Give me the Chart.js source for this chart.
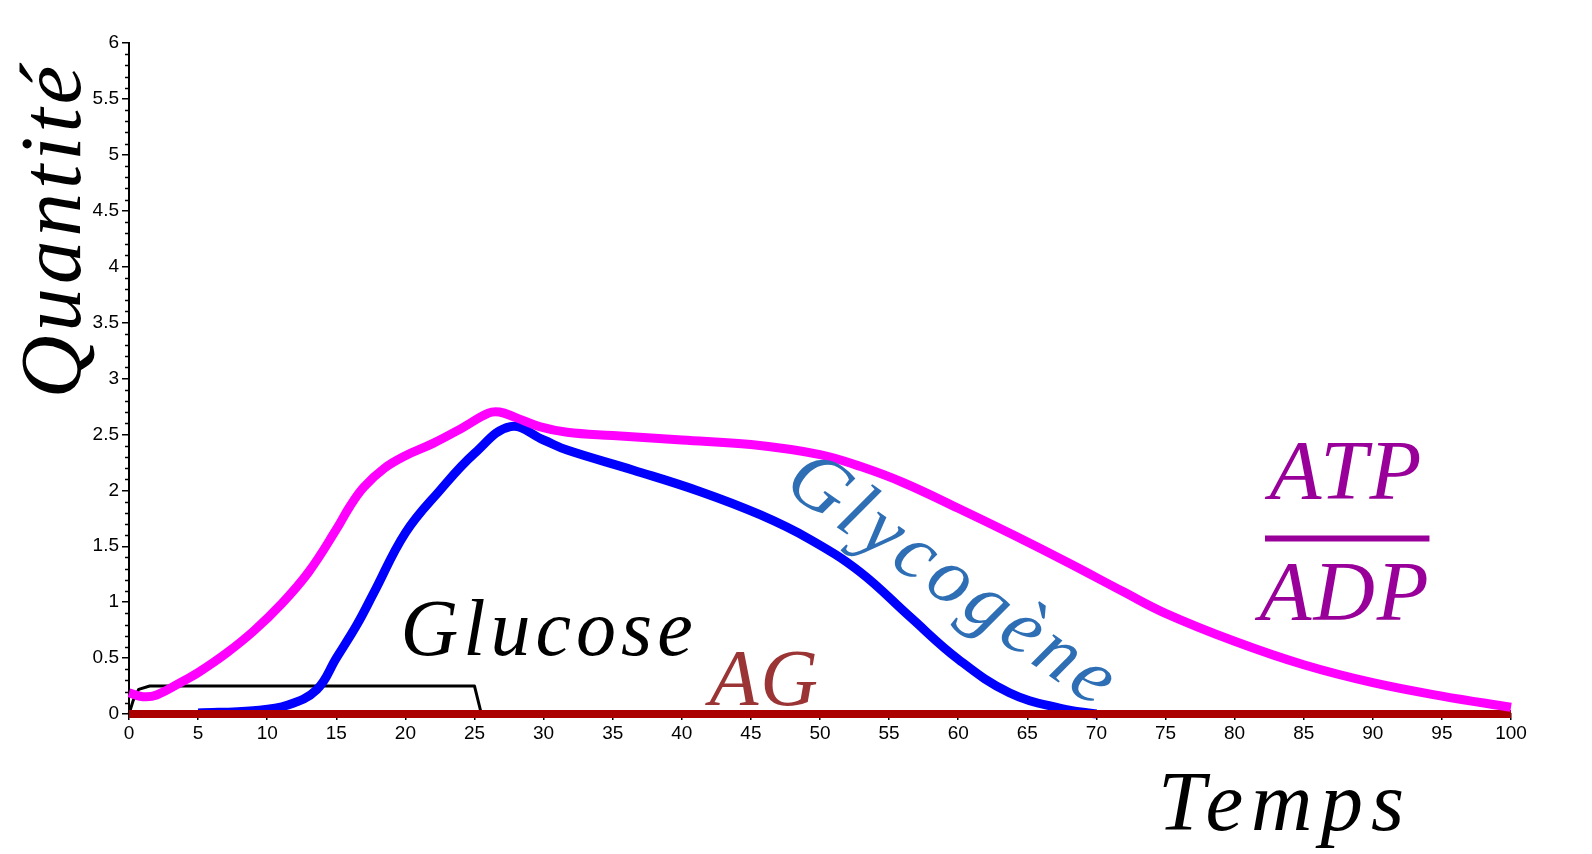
<!DOCTYPE html>
<html lang="fr">
<head>
<meta charset="utf-8">
<title>Quantité / Temps</title>
<script src="https://cdn.jsdelivr.net/npm/chart.js@4.4.1/dist/chart.umd.min.js"></script>
<style>
  html, body { margin: 0; padding: 0; background: #fff; }
  #wrap { width: 1592px; height: 854px; position: relative; }
</style>
</head>
<body>
<div id="wrap"><canvas id="chart" width="1592" height="854"></canvas></div>
<script>
(function() {
  'use strict';

  // ATP / ADP (magenta)
  const atpX = [0, 1, 2, 4, 5, 7, 9, 11, 13, 15, 16, 17, 18.5, 20, 22, 24, 26, 26.8, 28, 29.7, 31.7, 35, 40, 45, 50, 53, 56, 60, 64, 68, 72, 75, 80, 85, 90, 95, 100];
  const atpY = [0.19, 0.155, 0.17, 0.3, 0.37, 0.54, 0.74, 0.98, 1.27, 1.65, 1.86, 2.03, 2.2, 2.31, 2.42, 2.55, 2.69, 2.7, 2.65, 2.57, 2.52, 2.49, 2.45, 2.41, 2.32, 2.21, 2.07, 1.84, 1.6, 1.35, 1.09, 0.9, 0.65, 0.44, 0.28, 0.16, 0.06];

  // Glycogène (bleu)
  const glyX = [5, 9, 11.5, 13.6, 15, 16.5, 17.7, 20, 22.5, 25, 27.6, 30, 31.7, 36.5, 41.3, 45.7, 49.3, 52.9, 56.5, 60, 63.7, 67.4, 70];
  const glyY = [0.01, 0.03, 0.08, 0.22, 0.5, 0.8, 1.08, 1.62, 2.0, 2.33, 2.57, 2.45, 2.36, 2.18, 1.99, 1.78, 1.56, 1.27, 0.87, 0.49, 0.19, 0.05, 0];

  // Glucose (noir)
  const gluX = [0, 0.3, 0.7, 1.5, 25, 25.5];
  const gluY = [0, 0.12, 0.22, 0.25, 0.25, 0];

  // AG (rouge)
  const agX = [0, 100];
  const agY = [0, 0];

  const xTicks = [0, 5, 10, 15, 20, 25, 30, 35, 40, 45, 50, 55, 60, 65, 70, 75, 80, 85, 90, 95, 100];
  const yTicks = [0, 0.5, 1, 1.5, 2, 2.5, 3, 3.5, 4, 4.5, 5, 5.5, 6];

  const pts = (xs, ys) => xs.map((x, i) => ({ x: x, y: ys[i] }));

  const SERIF = "'Liberation Serif', 'DejaVu Serif', serif";

  function drawText(ctx, txt, x, y, font, color, spacing, angle) {
    ctx.save();
    ctx.translate(x, y);
    if (angle) ctx.rotate(angle);
    ctx.font = font;
    ctx.fillStyle = color;
    ctx.letterSpacing = (spacing || 0) + 'px';
    ctx.textAlign = 'center';
    ctx.textBaseline = 'alphabetic';
    ctx.fillText(txt, 0, 0);
    ctx.restore();
  }

  const decor = {
    id: 'decor',
    afterDraw(chart) {
      const ctx = chart.ctx;
      const xs = chart.scales.x, ys = chart.scales.y;
      // minor ticks on the y axis
      ctx.save();
      ctx.strokeStyle = '#000';
      ctx.lineWidth = 1.5;
      for (let i = 0; i <= 60; i++) {
        if (i % 5 === 0) continue;
        const py = Math.round(ys.getPixelForValue(i / 10)) + 0.5;
        ctx.beginPath();
        ctx.moveTo(xs.left - 4, py);
        ctx.lineTo(xs.left, py);
        ctx.stroke();
      }
      ctx.restore();

      // labels
      drawText(ctx, 'Quantité', 80, 230, 'italic 87px ' + SERIF, '#000', 4, -Math.PI / 2);
      drawText(ctx, 'Temps', 1285, 830, 'italic 85px ' + SERIF, '#000', 8);
      drawText(ctx, 'Glucose', xs.getPixelForValue(30.4), ys.getPixelForValue(0.53), 'italic 80px ' + SERIF, '#000', 5);
      drawText(ctx, 'AG', xs.getPixelForValue(46.0), ys.getPixelForValue(0.08), 'italic 80px ' + SERIF, '#9b3434', 2);
      drawText(ctx, 'Glycogène', xs.getPixelForValue(58.7), ys.getPixelForValue(1.2) + 20, 'italic 80px ' + SERIF, '#2e6eb5', 5, 35 * Math.PI / 180);
      drawText(ctx, 'ATP', xs.getPixelForValue(88.1), ys.getPixelForValue(1.92), 'italic 85px ' + SERIF, '#990099', 2);
      drawText(ctx, 'ADP', xs.getPixelForValue(88.0), ys.getPixelForValue(0.84), 'italic 85px ' + SERIF, '#990099', 2);
      ctx.save();
      ctx.strokeStyle = '#990099';
      ctx.lineWidth = 6;
      ctx.beginPath();
      ctx.moveTo(xs.getPixelForValue(82.2), ys.getPixelForValue(1.57));
      ctx.lineTo(xs.getPixelForValue(94.1), ys.getPixelForValue(1.57));
      ctx.stroke();
      ctx.restore();
    }
  };

  const tickFont = { family: "'Liberation Sans', Arial, sans-serif", size: 19 };

  new Chart(document.getElementById('chart'), {
    type: 'line',
    data: {
      datasets: [
        { label: 'ATP/ADP', data: pts(atpX, atpY), borderColor: '#ff00ff', borderWidth: 9, tension: 0.4, order: 0 },
        { label: 'AG', data: pts(agX, agY), borderColor: '#aa0000', borderWidth: 8, tension: 0, order: 1 },
        { label: 'Glycogène', data: pts(glyX, glyY), borderColor: '#0000ff', borderWidth: 9, tension: 0.4, order: 2 },
        { label: 'Glucose', data: pts(gluX, gluY), borderColor: '#000', borderWidth: 3, tension: 0, order: 3 }
      ]
    },
    options: {
      responsive: false,
      animation: false,
      devicePixelRatio: 1,
      layout: { padding: { top: 43, right: 81, left: 0, bottom: 0 } },
      elements: { point: { radius: 0 }, line: { borderCapStyle: 'butt', borderJoinStyle: 'round' } },
      datasets: { line: { clip: false } },
      plugins: { legend: { display: false }, tooltip: { enabled: false } },
      scales: {
        x: {
          type: 'linear', min: 0, max: 100,
          afterBuildTicks: s => { s.ticks = xTicks.map(v => ({ value: v })); },
          afterFit: s => { s.height = 140; },
          grid: { drawOnChartArea: false, drawTicks: true, tickLength: 6, color: '#000', lineWidth: 1.5 },
          border: { display: true, color: '#000', width: 2 },
          ticks: { color: '#000', font: tickFont, padding: 2, maxRotation: 0, autoSkip: false, callback: v => String(v) }
        },
        y: {
          type: 'linear', min: 0, max: 6,
          afterBuildTicks: s => { s.ticks = yTicks.map(v => ({ value: v })); },
          afterFit: s => { s.width = 129; },
          grid: { drawOnChartArea: false, drawTicks: true, tickLength: 7, color: '#000', lineWidth: 1.5 },
          border: { display: true, color: '#000', width: 2 },
          ticks: { color: '#000', font: tickFont, padding: 3, autoSkip: false, callback: v => String(v) }
        }
      }
    },
    plugins: [decor]
  });
})();
</script>
</body>
</html>
